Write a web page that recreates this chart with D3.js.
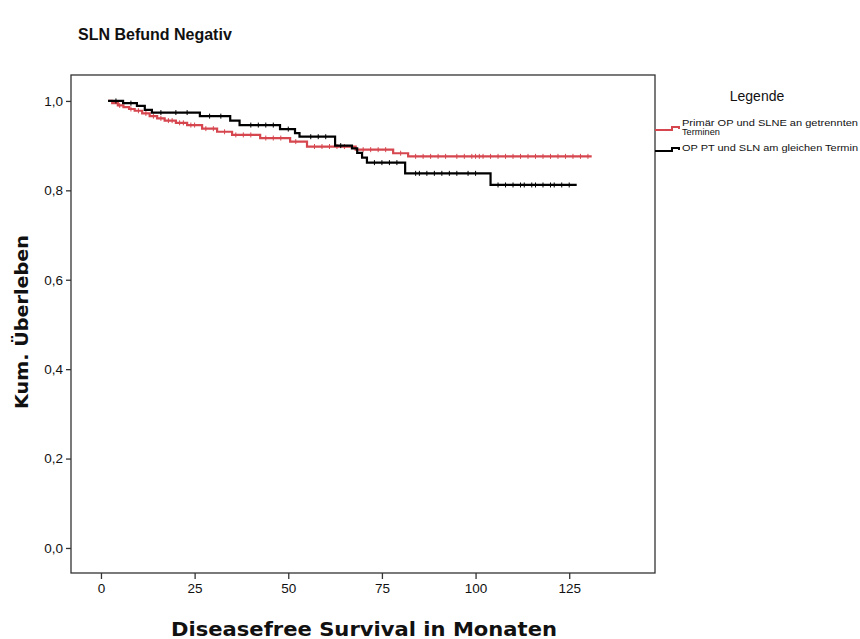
<!DOCTYPE html>
<html>
<head>
<meta charset="utf-8">
<script src="https://cdn.jsdelivr.net/npm/d3@7"></script>
<style>
  body { margin: 0; background: #fff; }
  text { font-family: "Liberation Sans", Arial, sans-serif; fill: #111; }
</style>
</head>
<body>
<div id="chart"></div>
<script>
// --- data (Kaplan-Meier steps) ---
const redName = ["Primär OP  und SLNE an getrennten", "Terminen"];
const blackName = ["OP PT und SLN am gleichen Termin"];

const redTimes = [1.9, 3, 4.5, 6, 7.5, 9, 11, 13, 15, 17, 20, 23, 27, 31, 35, 42.5, 50.5, 55, 68, 78, 82];
const redSurv  = [1.0, 0.995, 0.99, 0.986, 0.982, 0.978, 0.972, 0.966, 0.961, 0.956, 0.951, 0.946, 0.938, 0.931, 0.924, 0.917, 0.909, 0.898, 0.891, 0.883, 0.876];
const redEnd = 131;
const redCensor = [5, 8, 10, 12, 14, 16, 18, 19, 21, 22, 24, 25, 28, 30, 33, 36, 38, 40, 44, 46, 48, 52, 57, 59, 61, 63, 65, 70, 72, 74, 76, 80, 84, 86, 88, 90, 92, 95, 97, 99, 100, 101, 102, 104, 106, 108, 110, 112, 114, 116, 118, 120, 122, 124, 126, 128, 130];

const blackTimes = [1.9, 5.9, 9.6, 11.7, 13.6, 26.4, 34.5, 37, 47.8, 51.8, 53, 62.5, 67, 68.4, 69.7, 71, 81.2, 104];
const blackSurv  = [1.0, 0.995, 0.989, 0.98, 0.974, 0.966, 0.956, 0.946, 0.937, 0.928, 0.92, 0.90, 0.894, 0.884, 0.873, 0.862, 0.838, 0.812];
const blackEnd = 127;
const blackCensor = [4, 8, 16, 20, 23, 29, 32, 40, 42, 44, 46, 50, 56, 58, 60, 64, 73, 75, 77, 79, 84, 85, 87, 89, 91, 93, 95, 98, 100, 106, 108, 110, 112, 113, 115, 116, 118, 120, 121, 123, 125];

const xTicks = [0, 25, 50, 75, 100, 125];
const yTicks = [0, 0.2, 0.4, 0.6, 0.8, 1.0];

// --- layout ---
const width = 860, height = 639;
const box = { left: 71, right: 655, top: 75, bottom: 573 };

const x = d3.scaleLinear().domain([-8, 147.9]).range([box.left, box.right]);
const y = d3.scaleLinear().domain([-0.056, 1.058]).range([box.bottom, box.top]);

const svg = d3.select("#chart").append("svg")
    .attr("width", width)
    .attr("height", height);

// title
svg.append("text")
    .attr("x", 78).attr("y", 40)
    .attr("font-size", 16).attr("font-weight", "bold")
    .text("SLN Befund Negativ");

// plot frame
svg.append("rect")
    .attr("x", box.left).attr("y", box.top)
    .attr("width", box.right - box.left).attr("height", box.bottom - box.top)
    .attr("fill", "none").attr("stroke", "#333").attr("stroke-width", 1.3);

const fmt = d => d3.format(".1f")(d).replace(".", ",");

svg.append("g")
    .attr("transform", `translate(${box.left},0)`)
    .call(d3.axisLeft(y).tickValues(yTicks).tickFormat(fmt).tickSize(5).tickPadding(3))
    .call(g => g.select(".domain").remove())
    .call(g => g.selectAll("line").attr("stroke", "#333").attr("stroke-width", 1.3))
    .call(g => g.selectAll("text").attr("font-size", 13.5).attr("font-family", "Liberation Sans, Arial").attr("fill", "#222"));

svg.append("g")
    .attr("transform", `translate(0,${box.bottom})`)
    .call(d3.axisBottom(x).tickValues(xTicks).tickSize(6).tickPadding(4))
    .call(g => g.select(".domain").remove())
    .call(g => g.selectAll("line").attr("stroke", "#333").attr("stroke-width", 1.3))
    .call(g => g.selectAll("text").attr("font-size", 13.5).attr("font-family", "Liberation Sans, Arial").attr("fill", "#222"));

// axis titles
svg.append("text")
    .attr("x", 364).attr("y", 636)
    .attr("text-anchor", "middle")
    .attr("font-size", 19).attr("font-weight", "bold")
    .attr("textLength", 386).attr("lengthAdjust", "spacingAndGlyphs")
    .style("font-family", "DejaVu Sans, sans-serif")
    .text("Diseasefree Survival in Monaten");

svg.append("text")
    .attr("transform", "translate(28,322) rotate(-90)")
    .attr("text-anchor", "middle")
    .attr("font-size", 18).attr("font-weight", "bold")
    .attr("textLength", 174).attr("lengthAdjust", "spacingAndGlyphs")
    .style("font-family", "DejaVu Sans, sans-serif")
    .text("Kum. Überleben");

// --- survival curves ---
function stepPoints(times, surv, end) {
    const pts = times.map((t, i) => [t, surv[i]]);
    pts.push([end, surv[surv.length - 1]]);
    return pts;
}
function survAt(times, surv, t) {
    let s = surv[0];
    times.forEach((tt, i) => { if (tt <= t) s = surv[i]; });
    return s;
}

const line = d3.line().x(d => x(d[0])).y(d => y(d[1])).curve(d3.curveStepAfter);

const series = [
    { times: redTimes, surv: redSurv, end: redEnd, censor: redCensor, color: "#d6464e" },
    { times: blackTimes, surv: blackSurv, end: blackEnd, censor: blackCensor, color: "#000" }
];

series.forEach(s => {
    const g = svg.append("g");
    g.append("path")
        .attr("d", line(stepPoints(s.times, s.surv, s.end)))
        .attr("fill", "none").attr("stroke", s.color).attr("stroke-width", 2.2);
    g.selectAll("line.cens")
        .data(s.censor)
        .join("line")
        .attr("class", "cens")
        .attr("x1", d => x(d)).attr("x2", d => x(d))
        .attr("y1", d => y(survAt(s.times, s.surv, d)) - 2.5)
        .attr("y2", d => y(survAt(s.times, s.surv, d)) + 2.5)
        .attr("stroke", s.color).attr("stroke-width", 1);
});

// --- legend ---
svg.append("text")
    .attr("x", 757).attr("y", 101)
    .attr("text-anchor", "middle")
    .attr("font-size", 14)
    .text("Legende");

const legend = [
    { lines: redName, color: "#d6464e", y: 130, ty: 126, w: [176, 38] },
    { lines: blackName, color: "#000", y: 151, ty: 151, w: [176] }
];
legend.forEach(l => {
    svg.append("path")
        .attr("d", `M655,${l.y}H672V${l.y - 3}H679V${l.y - 1}`)
        .attr("fill", "none").attr("stroke", l.color).attr("stroke-width", 2);
    l.lines.forEach((t, i) => {
        svg.append("text")
            .attr("x", 682).attr("y", l.ty + i * 9)
            .attr("font-size", 9.3)
            .attr("textLength", l.w[i]).attr("lengthAdjust", "spacingAndGlyphs")
            .attr("fill", "#222")
            .text(t);
    });
});
</script>
</body>
</html>
